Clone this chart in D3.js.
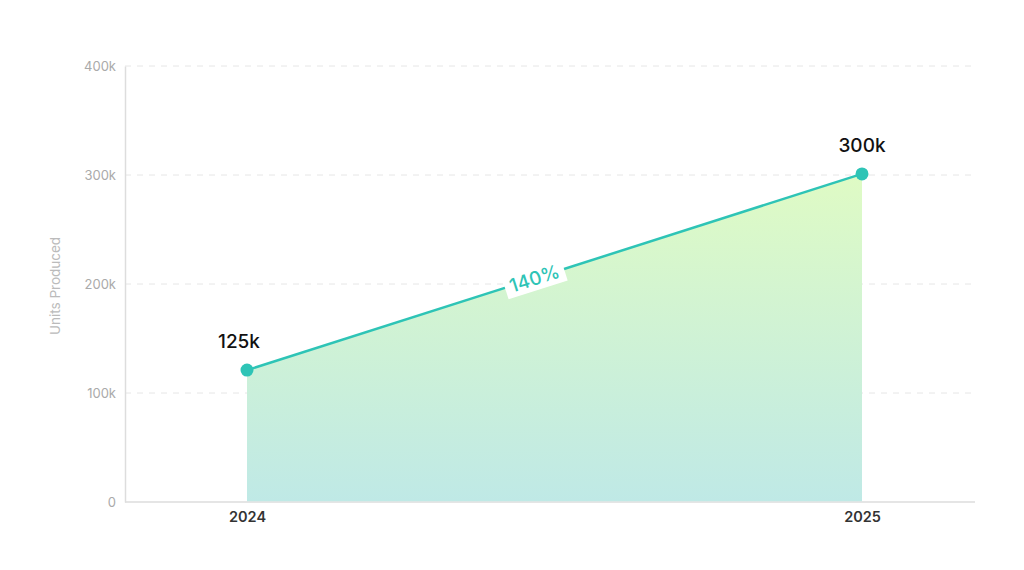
<!DOCTYPE html>
<html><head><meta charset="utf-8">
<script src="https://cdn.jsdelivr.net/npm/d3@7"></script>
<style>body{margin:0;background:#fff;font-family:Inter,"Noto Sans",sans-serif;}</style>
</head><body><svg id="c" width="1024" height="570"></svg>
<script>
const categories = ["2024", "2025"];
const values = [121000, 301000];
const pointLabels = ["125k", "300k"];
const changeLabel = "140%";
const yTicks = [0, 100000, 200000, 300000, 400000];
const yTickLabels = ["0", "100k", "200k", "300k", "400k"];
const yTitle = "Units Produced";

const svg = d3.select("#c");
const L = 125, R = 975, T = 66, B = 502;
const x = d3.scalePoint().domain(categories).range([247, 862]);
const y = d3.scaleLinear().domain([0, 400000]).range([B, T]);
const teal = "#2ec4b6";

// grid
svg.append("g").selectAll("line").data(yTicks.slice(1)).join("line")
  .attr("x1", L).attr("x2", R).attr("y1", d => y(d)).attr("y2", d => y(d))
  .attr("stroke", "#e6e6e6").attr("stroke-dasharray", "6,6").attr("stroke-width", 1);

// y axis
const ya = svg.append("g").attr("transform", `translate(${L},0)`)
  .call(d3.axisLeft(y).tickValues(yTicks).tickFormat((d, i) => yTickLabels[i]).tickSize(0).tickPadding(9));
ya.select(".domain").attr("stroke", "#dddddd").attr("stroke-width", 1.5);
ya.selectAll("text").attr("fill", "#aaaaaa").style("font-size", "13px").style("font-family", "Inter,sans-serif");

// x axis
const xa = svg.append("g").attr("transform", `translate(0,${B})`)
  .call(d3.axisBottom(x).tickSize(0).tickPadding(10));
xa.select(".domain").attr("d", `M${L},0H${R}`).attr("stroke", "#dddddd").attr("stroke-width", 1.5);
xa.selectAll("text").attr("fill", "#333").style("font-size", "14.5px").style("font-weight", "600").style("font-family", "Inter,sans-serif");

// y title
svg.append("text").attr("transform", `translate(60,${(T + B) / 2 + 2}) rotate(-90)`)
  .attr("text-anchor", "middle").attr("fill", "#bbbbbb").style("font-size", "13.5px").text(yTitle);

// gradient
const defs = svg.append("defs");
const g = defs.append("linearGradient").attr("id", "ag")
  .attr("gradientUnits", "userSpaceOnUse").attr("y1", y(d3.max(values))).attr("y2", B).attr("x1", 0).attr("x2", 0);
g.append("stop").attr("offset", "0%").attr("stop-color", "#dffbc4");
g.append("stop").attr("offset", "100%").attr("stop-color", "#bfe9e6");

const data = categories.map((c, i) => ({ c, v: values[i], l: pointLabels[i] }));
svg.append("path").datum(data)
  .attr("d", d3.area().x(d => x(d.c)).y0(B - 0.75).y1(d => y(d.v)))
  .attr("fill", "url(#ag)");
svg.append("path").datum(data)
  .attr("d", d3.line().x(d => x(d.c)).y(d => y(d.v)))
  .attr("fill", "none").attr("stroke", teal).attr("stroke-width", 2.5);

svg.selectAll("circle.p").data(data).join("circle").attr("class", "p")
  .attr("cx", d => x(d.c)).attr("cy", d => y(d.v)).attr("r", 6.5).attr("fill", teal);

svg.selectAll("text.pl").data(data).join("text").attr("class", "pl")
  .attr("x", d => x(d.c) - 8 * (d.c === categories[0])).attr("y", d => y(d.v) - 22)
  .attr("text-anchor", "middle").attr("fill", "#111").style("font-size", "19px").style("font-weight", "500")
  .text(d => d.l);

// change label
const x0 = x(categories[0]), y0 = y(values[0]), x1 = x(categories[1]), y1 = y(values[1]);
const ang = Math.atan2(y1 - y0, x1 - x0) * 180 / Math.PI;
const mx = (x0 + x1) / 2 - 20, my = y0 + (y1 - y0) * ((mx - x0) / (x1 - x0));
const lg = svg.append("g").attr("transform", `translate(${mx},${my}) rotate(${ang})`);
lg.append("rect").attr("x", -31).attr("y", -12).attr("width", 62).attr("height", 24).attr("fill", "#fff");
lg.append("text").attr("text-anchor", "middle").attr("dy", "0.36em").attr("fill", teal)
  .style("font-size", "19px").style("font-weight", "500").text(changeLabel);
</script></body></html>
